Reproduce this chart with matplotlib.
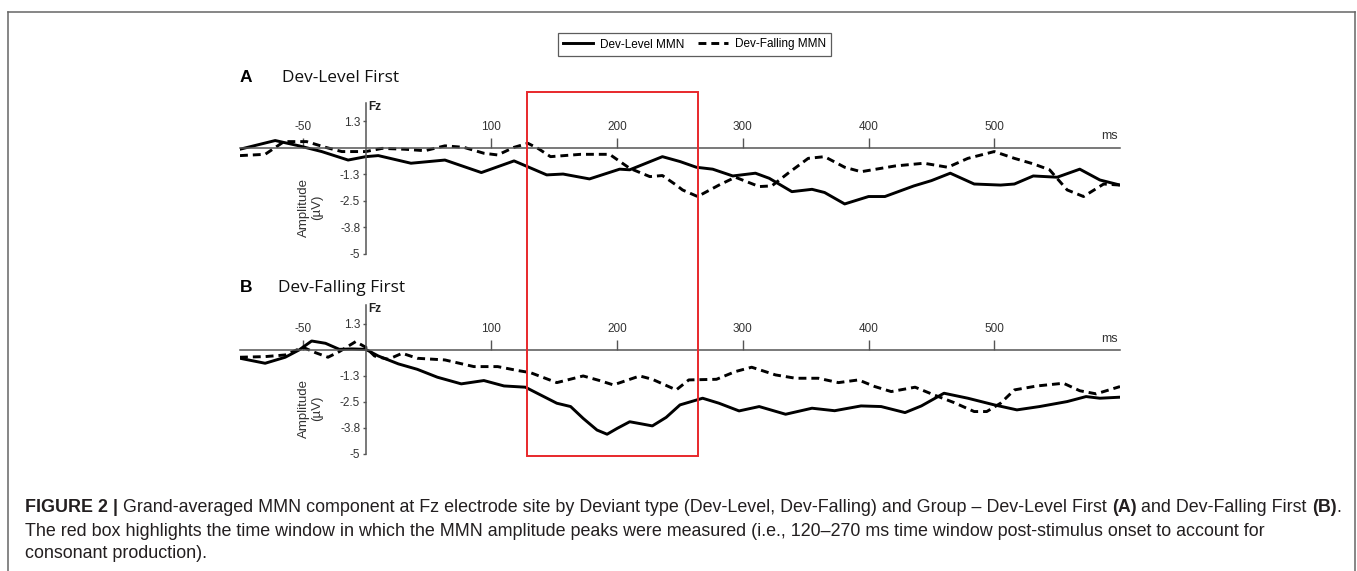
import matplotlib
matplotlib.use('Agg')
import matplotlib.pyplot as plt
from matplotlib.lines import Line2D
from matplotlib.patches import Rectangle
from matplotlib.transforms import blended_transform_factory

plt.rcParams['font.family'] = ['Liberation Sans', 'DejaVu Sans']
plt.rcParams['axes.unicode_minus'] = False

## Panel A: Dev-Level First (time in ms, amplitude in uV)
a_level_t = [-100, -72, -53, -35, -14, 0, 10, 36, 63, 92, 118, 144, 157, 178, 202, 210, 236, 250,
             263, 276, 292, 310, 321, 339, 355, 365, 381, 400, 413, 436, 450, 465, 484, 505, 516,
             531, 550, 568, 584, 600]
a_level_uv = [-0.06, 0.35, 0.10, -0.17, -0.57, -0.41, -0.36, -0.72, -0.57, -1.16, -0.61, -1.27,
              -1.23, -1.46, -1.00, -1.03, -0.41, -0.64, -0.91, -1.00, -1.32, -1.19, -1.43, -2.06,
              -1.95, -2.10, -2.64, -2.29, -2.29, -1.79, -1.54, -1.19, -1.70, -1.75, -1.70, -1.32,
              -1.38, -1.00, -1.51, -1.75]
a_fall_t = [-100, -80, -65, -47, -32, -19, 0, 13, 31, 47, 63, 78, 94, 105, 118, 129, 137, 147, 171,
            194, 210, 226, 236, 247, 252, 264, 281, 294, 313, 323, 336, 352, 365, 381, 394, 421,
            444, 463, 479, 500, 516, 531, 544, 558, 571, 587, 600]
a_fall_uv = [-0.36, -0.30, 0.30, 0.30, 0.03, -0.17, -0.17, -0.02, -0.06, -0.13, 0.10, 0.03, -0.25,
             -0.33, 0.03, 0.22, -0.02, -0.41, -0.30, -0.30, -0.96, -1.35, -1.30, -1.75, -1.98,
             -2.29, -1.75, -1.38, -1.82, -1.79, -1.19, -0.49, -0.41, -0.91, -1.12, -0.85, -0.72,
             -0.91, -0.49, -0.17, -0.49, -0.75, -1.03, -1.98, -2.29, -1.70, -1.75]

## Panel B: Dev-Falling First
b_level_t = [-100, -80, -64, -53, -43, -32, -21, -11, 0, 10, 26, 41, 57, 76, 94, 110, 127, 139, 152,
             163, 173, 184, 192, 200, 210, 220, 228, 239, 250, 268, 281, 297, 313, 334, 355, 373,
             394, 410, 429, 442, 460, 479, 500, 518, 536, 558, 573, 584, 600]
b_level_uv = [-0.40, -0.64, -0.35, 0.00, 0.43, 0.32, 0.03, 0.05, 0.03, -0.29, -0.67, -0.93, -1.31,
              -1.63, -1.47, -1.73, -1.79, -2.16, -2.56, -2.72, -3.29, -3.85, -4.05, -3.77, -3.45,
              -3.56, -3.65, -3.24, -2.64, -2.32, -2.56, -2.93, -2.72, -3.09, -2.80, -2.92, -2.69,
              -2.72, -3.01, -2.69, -2.08, -2.32, -2.64, -2.88, -2.72, -2.48, -2.24, -2.32, -2.27]
b_fall_t = [-100, -80, -64, -50, -40, -30, -21, -8, 0, 7, 18, 29, 41, 63, 86, 105, 121, 131, 152,
            173, 186, 197, 218, 228, 247, 257, 279, 294, 307, 326, 342, 360, 376, 392, 405, 418,
            437, 452, 468, 484, 494, 505, 516, 534, 555, 568, 581, 600]
b_fall_uv = [-0.35, -0.32, -0.24, 0.13, -0.13, -0.35, -0.08, 0.40, 0.13, -0.29, -0.45, -0.16,
             -0.40, -0.48, -0.80, -0.80, -0.99, -1.09, -1.57, -1.25, -1.47, -1.68, -1.25, -1.41,
             -1.92, -1.44, -1.41, -1.04, -0.83, -1.20, -1.36, -1.36, -1.57, -1.44, -1.76, -2.00,
             -1.79, -2.16, -2.53, -2.96, -2.96, -2.56, -1.92, -1.73, -1.60, -1.96, -2.11, -1.76]

x_ticks = [-50, 100, 200, 300, 400, 500]
y_ticks = [1.25, -1.25, -2.5, -3.75, -5]
y_tick_labels = ['1.3', '-1.3', '-2.5', '-3.8', '-5']
window_ms = (128, 264)

W, H = 1357, 571
fig = plt.figure(figsize=(W / 100, H / 100), dpi=100)
fig.patch.set_facecolor('white')

axis_col = '#555555'
txt_col = '#333333'
dash = (0, (2.7, 1.7))


def setup_panel(ax, level_t, level_uv, fall_t, fall_uv, ytop):
    ax.plot(level_t, level_uv, color='black', lw=2.1, solid_joinstyle='round', label='Dev-Level MMN')
    ax.plot(fall_t, fall_uv, color='black', lw=2.1, linestyle=dash, label='Dev-Falling MMN')
    ax.set_xlim(-100, 600)
    ax.set_ylim(-5, ytop)
    for s in ['right', 'bottom']:
        ax.spines[s].set_visible(False)
    ax.spines['left'].set_position(('data', 0))
    ax.spines['top'].set_position(('data', 0))
    for s in ['left', 'top']:
        ax.spines[s].set_color(axis_col)
        ax.spines[s].set_linewidth(1.1)
    ax.xaxis.set_ticks_position('top')
    ax.set_xticks(x_ticks)
    ax.set_yticks(y_ticks)
    ax.set_yticklabels(y_tick_labels)
    ax.tick_params(axis='x', direction='out', length=7.5, width=1, color=axis_col,
                   labelsize=8.5, labelcolor=txt_col, pad=3.5)
    ax.tick_params(axis='y', direction='out', length=2.5, width=1, color=axis_col,
                   labelsize=8.5, labelcolor=txt_col, pad=1.5)
    ax.patch.set_visible(False)
    ax.text(2, 1.95, 'Fz', fontsize=8.5, fontweight='bold', ha='left', va='center', color='#222222')
    ax.text(598, 0.55, 'ms', fontsize=9, ha='right', va='center', color=txt_col)
    ax.text(-44, -2.8, 'Amplitude\n(\u00b5V)', rotation=90, fontsize=9.5, ha='center',
            va='center', color=txt_col, linespacing=1.05)


axA = fig.add_axes([240 / W, 1 - 254 / H, 880 / W, 151 / H])
setup_panel(axA, a_level_t, a_level_uv, a_fall_t, a_fall_uv, 2.12)
axB = fig.add_axes([240 / W, 1 - 454 / H, 880 / W, 149 / H])
setup_panel(axB, b_level_t, b_level_uv, b_fall_t, b_fall_uv, 2.16)

# panel headings
fig.text(240 / W, 1 - 77 / H, 'A', fontsize=12.5, fontweight='bold', va='center', color='black')
fig.text(282 / W, 1 - 78 / H, 'Dev-Level First', family='Open Sans', fontsize=12.4, va='center', color='#111111')
fig.text(240 / W, 1 - 287 / H, 'B', fontsize=12.5, fontweight='bold', va='center', color='black')
fig.text(278 / W, 1 - 288 / H, 'Dev-Falling First', family='Open Sans', fontsize=12.4, va='center', color='#111111')

# red box over both panels (x in data, y in figure)
trans = blended_transform_factory(axA.transData, fig.transFigure)
box = Rectangle((window_ms[0], 1 - 456 / H), window_ms[1] - window_ms[0], (456 - 92) / H,
                transform=trans, fill=False, edgecolor='#e8282b', lw=1.4, clip_on=False)
fig.add_artist(box)

# legend
handles, labels = axA.get_legend_handles_labels()
leg = fig.legend(handles, labels, loc='center', bbox_to_anchor=(694.5 / W, 1 - 44.5 / H), ncol=2,
                 fontsize=8.5, frameon=True, fancybox=False, edgecolor='#333333', handlelength=2.5,
                 columnspacing=1.2, handletextpad=0.6, borderpad=0.45)
leg.get_frame().set_linewidth(0.9)

# outer frame (open at bottom)
for xs, ys in [([8, 8], [571, 12]), ([8, 1355], [12, 12]), ([1355, 1355], [12, 571])]:
    fig.add_artist(Line2D([x / W for x in xs], [1 - y / H for y in ys], color='#666666', lw=1.1))

# caption with bold parts
cap_size = 12.9
renderer = fig.canvas.get_renderer()


def text_width(s, weight):
    t = fig.text(0, 0, s, fontsize=cap_size, fontweight=weight)
    w = t.get_window_extent(renderer=renderer).width
    t.remove()
    return w


space = text_width('x x', 'normal') - text_width('xx', 'normal')


def rich_line(x, y, parts):
    for txt, weight, gap in parts:
        x += gap * space
        t = fig.text(x / W, 1 - y / H, txt, fontsize=cap_size, fontweight=weight,
                     ha='left', va='center', color='#231f20')
        x += t.get_window_extent(renderer=renderer).width


rich_line(25, 508, [('FIGURE 2 |', 'bold', 0),
                    ('Grand-averaged MMN component at Fz electrode site by Deviant type (Dev-Level, '
                     'Dev-Falling) and Group \u2013 Dev-Level First', 'normal', 1),
                    ('(A)', 'bold', 1), ('and Dev-Falling First', 'normal', 1),
                    ('(B)', 'bold', 1), ('.', 'normal', 0)])
rich_line(25, 531, [('The red box highlights the time window in which the MMN amplitude peaks were '
                     'measured (i.e., 120\u2013270 ms time window post-stimulus onset to account for',
                     'normal', 0)])
rich_line(25, 553, [('consonant production).', 'normal', 0)])

fig.savefig('out.png', dpi=100)
